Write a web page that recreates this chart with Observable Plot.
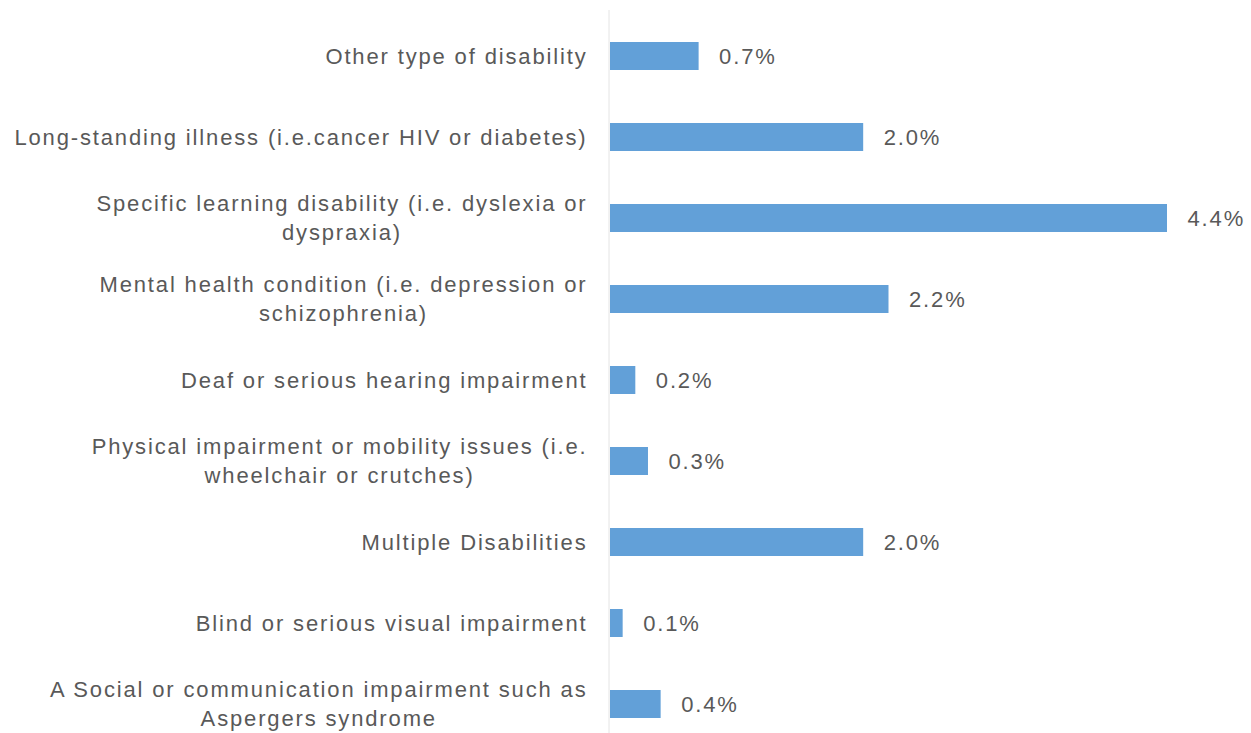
<!DOCTYPE html>
<html>
<head>
<meta charset="utf-8">
<script src="https://cdn.jsdelivr.net/npm/d3@7"></script>
<script src="https://cdn.jsdelivr.net/npm/@observablehq/plot@0.6"></script>
<style>
  html, body { margin: 0; padding: 0; background: #ffffff; overflow: hidden; }
</style>
</head>
<body>
<div id="chart"></div>
<script>
const categories = [
  "Other type of disability",
  "Long-standing illness (i.e.cancer HIV or diabetes)",
  "Specific learning disability (i.e. dyslexia or dyspraxia)",
  "Mental health condition (i.e. depression or schizophrenia)",
  "Deaf or serious hearing impairment",
  "Physical impairment or mobility issues (i.e. wheelchair or crutches)",
  "Multiple Disabilities",
  "Blind or serious visual impairment",
  "A Social or communication impairment such as Aspergers syndrome"
];
const labelLine1 = [
  "Other type of disability",
  "Long-standing illness (i.e.cancer HIV or diabetes)",
  "Specific learning disability (i.e. dyslexia or",
  "Mental health condition (i.e. depression or",
  "Deaf or serious hearing impairment",
  "Physical impairment or mobility issues (i.e.",
  "Multiple Disabilities",
  "Blind or serious visual impairment",
  "A Social or communication impairment such as"
];
const labelLine2 = [
  "",
  "",
  "dyspraxia)",
  "schizophrenia)",
  "",
  "wheelchair or crutches)",
  "",
  "",
  "Aspergers syndrome"
];
const values = [0.7, 2.0, 4.4, 2.2, 0.2, 0.3, 2.0, 0.1, 0.4];

const rows = categories.map((c, i) => ({cat: c, value: values[i], l1: labelLine1[i], l2: labelLine2[i]}));
const single = d => d.l2 === "";
const double = d => d.l2 !== "";
const FS = 22;

const chart = Plot.plot({
  width: 1251,
  height: 733,
  marginLeft: 0, marginRight: 0, marginTop: 10, marginBottom: 0,
  style: {
    background: "#ffffff",
    fontFamily: "'Liberation Sans', Arial, sans-serif",
    fontSize: FS + "px",
    letterSpacing: "1.85px",
    color: "#595959",
    overflow: "visible"
  },
  x: {domain: [0, 4.4], range: [610, 1167], axis: null},
  y: {domain: categories, range: [1.3, 759.6], paddingInner: 0.65, paddingOuter: 0.5, axis: null},
  marks: [
    Plot.ruleX([0], {stroke: "#e4e4e4", strokeWidth: 1, dx: -1.5}),
    Plot.barX(rows, {x: "value", y: "cat", fill: "#62a0d8"}),
    Plot.text(rows, {x: "value", y: "cat", text: d => d.value.toFixed(1) + "%", textAnchor: "start", dx: 20, fontSize: FS, fill: "#595959"}),
    Plot.text(rows, {filter: single, x: 0, y: "cat", text: "l1", textAnchor: "end", dx: -23, fontSize: FS, fill: "#595959"}),
    Plot.text(rows, {filter: double, x: 0, y: "cat", text: "l1", textAnchor: "end", dx: -23, dy: -14.5, fontSize: FS, fill: "#595959", ariaDescription: "lab1"}),
    Plot.text(rows, {filter: double, x: 0, y: "cat", text: "l2", textAnchor: "middle", dx: -23, dy: 14.5, fontSize: FS, fill: "#595959", ariaDescription: "lab2"})
  ]
});
document.getElementById("chart").appendChild(chart);

// center the second line under the first (as in the reference)
let g1 = chart.querySelector('g[aria-description="lab1"]');
let g2 = chart.querySelector('g[aria-description="lab2"]');
if (!g1 || !g2) {
  const groups = chart.querySelectorAll('g[aria-label="text"]');
  g1 = groups[2]; g2 = groups[3];
}
const l1 = g1.querySelectorAll('text');
const l2 = g2.querySelectorAll('text');
l1.forEach((t, i) => {
  const w = t.getComputedTextLength();
  const t2 = l2[i];
  if (!t2) return;
  const prev = t2.getAttribute("transform") || "";
  t2.setAttribute("transform", (prev + ` translate(${-w / 2},0)`).trim());
});
</script>
</body>
</html>
